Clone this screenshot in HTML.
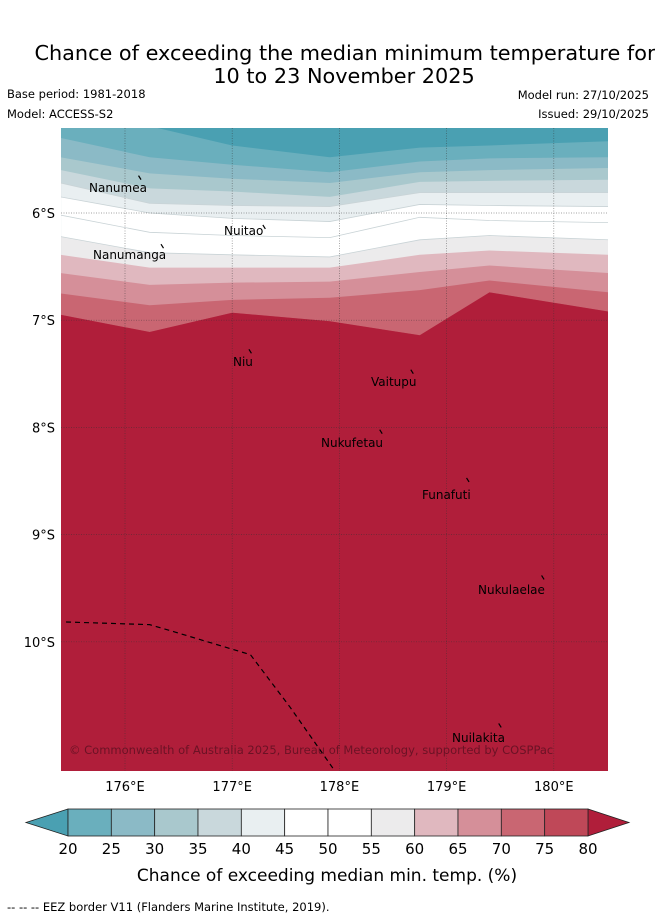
<!DOCTYPE html>
<html><head><meta charset="utf-8">
<style>
body{margin:0;background:#fff;font-family:"DejaVu Sans","Liberation Sans",sans-serif;}
svg text{font-family:"DejaVu Sans","Liberation Sans",sans-serif;}
</style></head>
<body>
<svg id="chart" width="655" height="919" viewBox="0 0 655 919" xmlns="http://www.w3.org/2000/svg">
<text x="345" y="60" font-size="20.8" text-anchor="middle">Chance of exceeding the median minimum temperature for</text>
<text x="344" y="83" font-size="20.8" text-anchor="middle">10 to 23 November 2025</text>
<text x="7" y="98" font-size="11.5">Base period: 1981-2018</text>
<text x="7" y="118" font-size="11.5">Model: ACCESS-S2</text>
<text x="649" y="99" font-size="11.5" text-anchor="end">Model run: 27/10/2025</text>
<text x="649" y="118" font-size="11.5" text-anchor="end">Issued: 29/10/2025</text>
<g id="map"></g>
<g id="cbar"></g>
<text x="327" y="881" font-size="17" text-anchor="middle">Chance of exceeding median min. temp. (%)</text>
<text x="7" y="911" font-size="11.5">--  --  -- EEZ border V11 (Flanders Marine Institute, 2019).</text>
</svg>
<script>
const levels=[20,25,30,35,40,45,50,55,60,65,70,75,80];
const colors=["#4aa0b2","#6aafbd","#8bbac6","#a9c8cd","#c9d8dc","#e9eff1","#ffffff","#ffffff","#ecebec","#e0b8bf","#d58f99","#c96672","#bf4858","#b01e3a"];
const nodeLons=[175.4,176.23,177.0,177.91,178.75,179.40,180.51];
// latitude (deg S) of each contour level at each node
const contourLat=[
[5.13,5.19,5.37,5.48,5.39,5.37,5.33],
[5.30,5.48,5.55,5.62,5.52,5.49,5.48],
[5.48,5.63,5.68,5.72,5.62,5.60,5.58],
[5.60,5.77,5.80,5.85,5.71,5.70,5.69],
[5.72,5.91,5.93,5.94,5.81,5.81,5.81],
[5.85,6.00,6.05,6.08,5.92,5.93,5.94],
[6.02,6.18,6.21,6.23,6.04,6.07,6.09],
[6.22,6.37,6.39,6.41,6.25,6.21,6.25],
[6.39,6.51,6.51,6.51,6.39,6.35,6.39],
[6.56,6.67,6.65,6.64,6.55,6.49,6.56],
[6.75,6.86,6.81,6.79,6.72,6.63,6.74],
[6.95,7.11,6.93,7.01,7.14,6.74,6.92],
[6.95,7.11,6.93,7.01,7.14,6.74,6.92]
];
const lonTicks=[176,177,178,179,180];
const latTicks=[6,7,8,9,10];
const islands=[["Nanumea",176.14,5.67,89,192],["Nuitao",177.3,6.13,224,235],["Nanumanga",176.35,6.31,93,259],["Niu",177.17,7.29,233,366],["Vaitupu",178.68,7.48,371,386],["Nukufetau",178.39,8.04,321,447],["Funafuti",179.2,8.49,422,499],["Nukulaelae",179.9,9.40,478,594],["Nuilakita",179.5,10.78,452,742]];
const eez=[[175.45,9.815],[176.23,9.84],[176.47,9.91],[177.17,10.12],[177.54,10.61],[177.94,11.18]];
const X=lon=>125+(lon-176)*107.2;
const Y=lat=>213+(lat-6)*107.2;
const NS="http://www.w3.org/2000/svg";
const map=document.getElementById('map');
function mk(t,a,p){const e=document.createElementNS(NS,t);for(const k in a)e.setAttribute(k,a[k]);(p||map).appendChild(e);return e;}
const clip=mk('clipPath',{id:'mc'});mk('rect',{x:61,y:128,width:547,height:643},clip);
const g=mk('g',{'clip-path':'url(#mc)'});
let bg=mk('rect',{x:61,y:128,width:547,height:643,fill:colors[0]},g);


for(let i=0;i<levels.length;i++){
  let d='M'+X(nodeLons[0])+','+Y(contourLat[i][0]);
  for(let j=1;j<nodeLons.length;j++)d+=' L'+X(nodeLons[j])+','+Y(contourLat[i][j]);
  d+=' L620,771 L61,771 Z';
  const p=mk('path',{d:d,fill:colors[i+1],stroke:i>=4&&i<=7?'#c9d3d6':'none','stroke-width':0.8},g);
  
  
}
lonTicks.forEach(l=>{const x=X(l);
  const ln=mk('line',{x1:x,y1:128,x2:x,y2:771,stroke:'#333','stroke-width':0.7,'stroke-dasharray':'1,1.5',opacity:0.6});
  
  const t=mk('text',{x:x,y:791,'font-size':13,'text-anchor':'middle'});t.textContent=l+'°E';
  });
latTicks.forEach(l=>{const y=Y(l);
  const ln=mk('line',{x1:61,y1:y,x2:608,y2:y,stroke:'#333','stroke-width':0.7,'stroke-dasharray':'1,1.5',opacity:0.6});
  
  const t=mk('text',{x:55,y:y+5,'font-size':13,'text-anchor':'end'});t.textContent=l+'°S';
  });
const ez=mk('polyline',{points:eez.map(p=>X(p[0])+','+Y(p[1])).join(' '),fill:'none',stroke:'#000','stroke-width':1.2,'stroke-dasharray':'5,4'});

islands.forEach(s=>{
  const c=mk('line',{x1:X(s[1])-1.5,y1:Y(s[2])-2,x2:X(s[1])+1,y2:Y(s[2])+2,stroke:'#000','stroke-width':1.2});
  
  const t=mk('text',{x:s[3],y:s[4],'font-size':12});t.textContent=s[0];
  });
const cp=mk('text',{x:69,y:754,'font-size':11.5,fill:'#5a1020',opacity:0.8});cp.textContent='© Commonwealth of Australia 2025, Bureau of Meteorology, supported by COSPPac';

const cb=document.getElementById('cbar');
const cx0=68,cx1=588,cy0=809,cy1=836,step=(cx1-cx0)/(levels.length-1);
const lt=mk('polygon',{points:`${cx0},${cy0} 26,${(cy0+cy1)/2} ${cx0},${cy1}`,fill:colors[0],stroke:'#222','stroke-width':0.8},cb);

const rt=mk('polygon',{points:`${cx1},${cy0} 629,${(cy0+cy1)/2} ${cx1},${cy1}`,fill:colors[13],stroke:'#222','stroke-width':0.8},cb);

for(let i=0;i<levels.length-1;i++){
  const r=mk('rect',{x:cx0+i*step,y:cy0,width:step,height:cy1-cy0,fill:colors[i+1],stroke:'#222','stroke-width':0.8},cb);
  
}
levels.forEach((v,i)=>{const t=mk('text',{x:cx0+i*step,y:854,'font-size':15,'text-anchor':'middle'},cb);t.textContent=v;
  });
</script>
</body></html>
